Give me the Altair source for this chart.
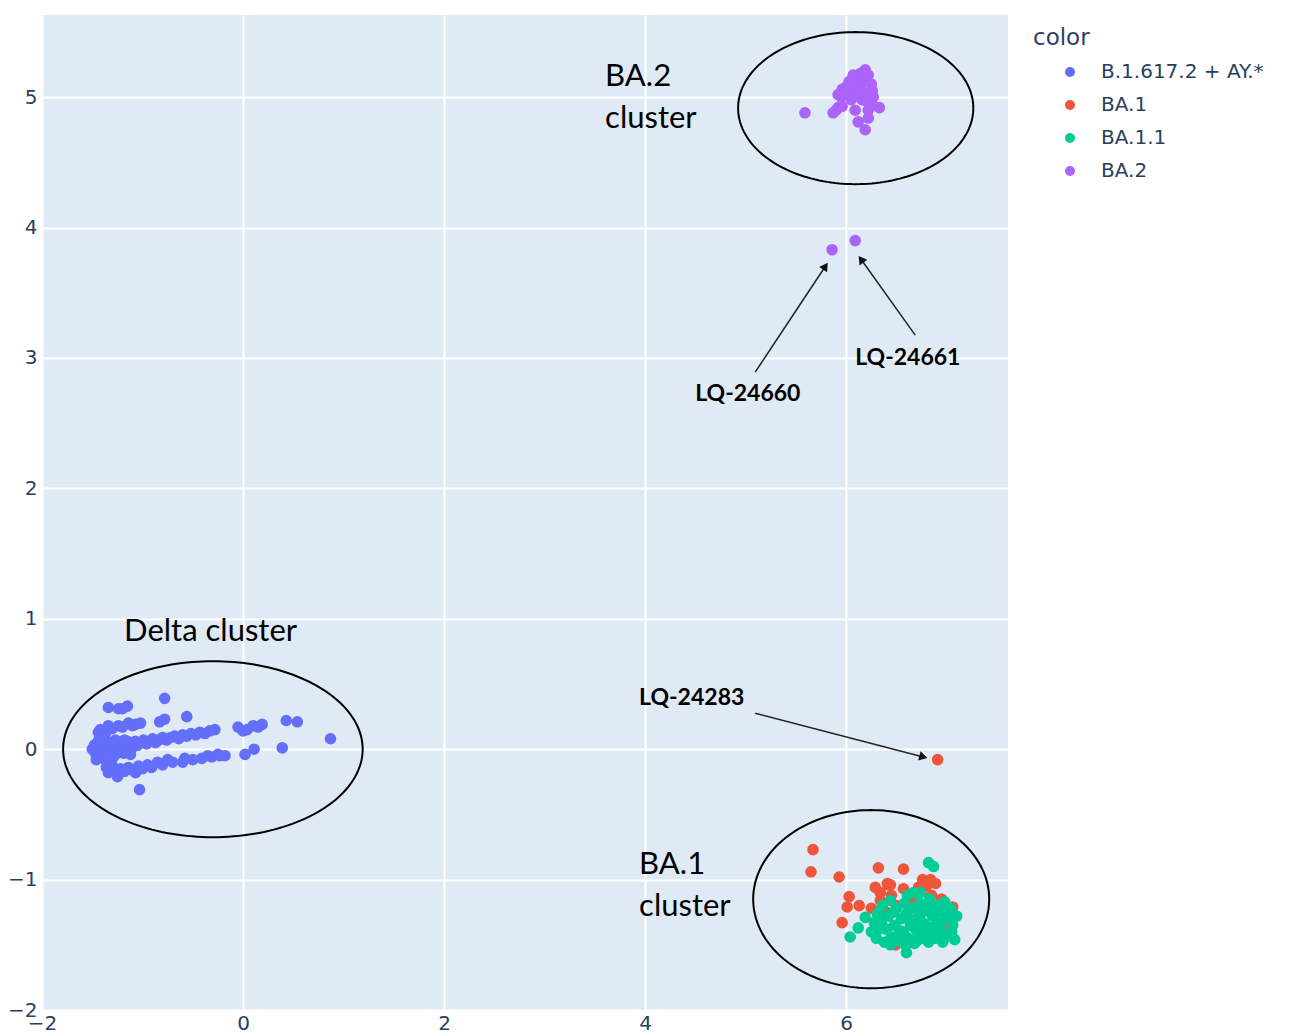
import math
import numpy as np
import pandas as pd
import altair as alt

# ---------------- data ----------------
categories = ["B.1.617.2 + AY.*", "BA.1", "BA.1.1", "BA.2"]
colors = ["#636efa", "#EF553B", "#00cc96", "#ab63fa"]

delta_x = [-1.34, -1.24, -1.15, -1.20, -0.78, -0.83, -0.78, -0.56,
           -1.44, -1.42, -1.37, -1.34, -1.30, -1.24, -1.20, -1.14, -1.10, -1.07, -1.02, -1.40,
           -1.50, -1.48, -1.47, -1.45, -1.44, -1.42, -1.40, -1.39, -1.37, -1.35, -1.34, -1.33,
           -1.31, -1.29, -1.28, -1.26, -1.24, -1.22, -1.21, -1.19, -1.17, -1.15, -1.13, -1.11,
           -1.09, -1.07, -1.05, -1.02, -0.99, -0.96, -0.93, -0.90, -0.87, -0.84, -0.80, -0.76,
           -0.72, -0.68, -0.64, -0.60, -0.56, -0.52, -0.47, -0.43, -0.38, -0.33, -0.28,
           -1.46, -1.36, -1.30, -1.27, -1.43, -1.18, -1.12,
           -1.36, -1.34, -1.30, -1.27, -1.25, -1.22, -1.18, -1.14, -1.10, -1.07, -1.04, -1.00,
           -0.95, -0.91, -0.85, -0.80, -0.75, -0.70, -0.60, -0.58, -0.50, -0.41, -0.35, -0.31,
           -0.25, -0.23, -0.18, -1.03,
           -0.05, 0.00, 0.04, 0.10, 0.15, 0.19, 0.43, 0.54, 0.87, 0.02, 0.11, 0.39]
delta_y = [0.32, 0.31, 0.33, 0.31, 0.39, 0.21, 0.23, 0.25,
           0.13, 0.15, 0.12, 0.18, 0.16, 0.18, 0.17, 0.20, 0.18, 0.19, 0.20, 0.10,
           0.00, 0.03, -0.03, 0.05, -0.05, 0.01, 0.04, -0.02, -0.06, 0.02, 0.05, -0.03,
           0.00, 0.04, -0.05, 0.02, -0.02, 0.05, 0.01, -0.03, 0.03, 0.06, 0.00, 0.04,
           0.02, 0.06, 0.03, 0.05, 0.07, 0.04, 0.06, 0.08, 0.05, 0.07, 0.09, 0.07,
           0.09, 0.10, 0.08, 0.11, 0.10, 0.12, 0.11, 0.13, 0.12, 0.14, 0.15,
           -0.08, -0.09, -0.07, 0.07, 0.08, 0.07, -0.04,
           -0.14, -0.18, -0.13, -0.16, -0.21, -0.15, -0.17, -0.14, -0.16, -0.18, -0.13, -0.15,
           -0.12, -0.14, -0.10, -0.12, -0.08, -0.10, -0.10, -0.07, -0.08, -0.07, -0.05, -0.06,
           -0.04, -0.05, -0.05, -0.31,
           0.17, 0.14, 0.15, 0.18, 0.17, 0.19, 0.22, 0.21, 0.08, -0.04, 0.00, 0.01]

ba1_x = [5.67, 5.65, 5.93, 6.03, 6.01, 6.13, 5.96, 6.32, 6.57, 6.29, 6.42, 6.34, 6.57,
         6.25, 6.34, 6.76, 6.84, 6.89, 6.80, 6.72, 7.06, 7.05, 6.49, 6.61, 6.45, 6.50,
         6.40, 6.66, 6.95, 7.00, 6.85, 6.41, 6.44, 6.91]
ba1_y = [-0.77, -0.94, -0.98, -1.13, -1.21, -1.20, -1.33, -0.91, -0.92, -1.06, -1.04, -1.10, -1.07,
         -1.22, -1.16, -1.00, -1.00, -1.03, -1.05, -1.06, -1.21, -1.31, -1.50, -1.49, -1.12, -1.20,
         -1.25, -1.14, -1.15, -1.38, -1.12, -1.03, -1.04, -0.08]

ba11_x = [6.82, 6.87, 6.04, 6.12, 6.19, 6.31, 6.44, 6.61, 6.67, 6.74, 6.60,
          6.25, 6.30, 6.35, 6.38, 6.40, 6.42, 6.45, 6.48, 6.50, 6.52, 6.55, 6.57, 6.58, 6.60,
          6.62, 6.64, 6.66, 6.68, 6.70, 6.71, 6.73, 6.75, 6.76, 6.78, 6.80, 6.82, 6.83, 6.85,
          6.86, 6.88, 6.90, 6.91, 6.93, 6.95, 6.96, 6.98, 7.00, 7.02, 7.04, 7.06, 7.08, 7.10,
          6.36, 6.47, 6.53, 6.63, 6.69, 6.79, 6.87, 6.94, 6.99, 7.05, 6.72, 6.59, 6.44, 6.33,
          6.28, 6.74, 6.84, 6.92, 7.02]
ba11_y = [-0.87, -0.90, -1.44, -1.37, -1.29, -1.26, -1.16, -1.12, -1.10, -1.10, -1.56,
          -1.40, -1.45, -1.33, -1.48, -1.38, -1.28, -1.44, -1.35, -1.22, -1.47, -1.30, -1.40, -1.18, -1.26,
          -1.45, -1.35, -1.22, -1.49, -1.30, -1.40, -1.18, -1.26, -1.44, -1.34, -1.22, -1.48, -1.15, -1.38,
          -1.28, -1.45, -1.20, -1.33, -1.40, -1.25, -1.48, -1.17, -1.30, -1.42, -1.22, -1.35, -1.46, -1.28,
          -1.20, -1.25, -1.39, -1.31, -1.38, -1.41, -1.36, -1.36, -1.44, -1.40, -1.46, -1.50, -1.50, -1.38,
          -1.33, -1.24, -1.24, -1.22, -1.26]

ba2_x = [5.59, 5.87, 5.90, 5.92, 5.96, 6.09, 6.12, 6.19, 6.22, 6.22, 6.33, 6.16,
         6.19, 6.18, 6.07, 6.12, 6.03, 6.00, 5.96, 5.92, 5.95, 6.00, 6.05, 6.10, 6.15, 6.20,
         6.25, 6.26, 6.27, 6.21, 6.15, 6.10, 6.05, 6.20, 6.25, 6.14, 6.22, 6.08,
         5.86, 6.09]
ba2_y = [4.88, 4.88, 4.90, 4.92, 4.93, 4.90, 4.81, 4.75, 4.84, 4.90, 4.92, 4.98,
         5.21, 5.16, 5.17, 5.13, 5.12, 5.08, 5.06, 5.02, 5.00, 5.04, 5.07, 5.09, 5.10, 5.12,
         5.10, 5.05, 5.00, 5.03, 5.05, 5.02, 4.98, 4.97, 4.95, 5.18, 5.17, 5.14,
         3.83, 3.90]

x_ticks = [-2, 0, 2, 4, 6]
y_ticks = [-2, -1, 0, 1, 2, 3, 4, 5]
x_domain = [-2, 7.61]
y_domain = [-2, 5.63]

# ellipses: center x, center y, radius x, radius y
ell_cx = [-0.30, 6.095, 6.249]
ell_cy = [0.00, 4.916, -1.150]
ell_rx = [1.49, 1.17, 1.174]
ell_ry = [0.675, 0.583, 0.683]

# annotation texts
ann_text = ["Delta cluster", "BA.2", "cluster", "BA.1", "cluster"]
ann_x = [-1.184, 3.602, 3.602, 3.940, 3.940]
ann_y = [0.897, 5.153, 4.831, -0.890, -1.212]

lbl_text = ["LQ-24660", "LQ-24661", "LQ-24283"]
lbl_x = [4.498, 6.090, 3.940]
lbl_y = [2.722, 2.999, 0.391]

# arrows: start -> end (tip)
arr_x0 = [5.095, 6.687, 5.095]
arr_y0 = [2.891, 3.175, 0.276]
arr_x1 = [5.821, 6.119, 6.816]
arr_y1 = [3.735, 3.788, -0.069]

# ---------------- layout ----------------
W, H = 966, 995
sx = W / (x_domain[1] - x_domain[0])
sy = H / (y_domain[1] - y_domain[0])
FG = "#2a3f5f"

rows = []
for cat, xs_, ys_ in [(categories[0], delta_x, delta_y), (categories[1], ba1_x, ba1_y),
                      (categories[2], ba11_x, ba11_y), (categories[3], ba2_x, ba2_y)]:
    for a, b in zip(xs_, ys_):
        rows.append({"x": a, "y": b, "color": cat})
pts = pd.DataFrame(rows)

erows = []
t = np.linspace(0, 2 * np.pi, 181)
for i in range(len(ell_cx)):
    for k, tt in enumerate(t):
        erows.append({"id": i, "k": k,
                      "x": ell_cx[i] + ell_rx[i] * np.cos(tt),
                      "y": ell_cy[i] + ell_ry[i] * np.sin(tt)})
ell = pd.DataFrame(erows)

head_back = 5.0  # px
lrows, hrows = [], []
for i in range(len(arr_x0)):
    dxp = (arr_x1[i] - arr_x0[i]) * sx
    dyp = -(arr_y1[i] - arr_y0[i]) * sy
    L = math.hypot(dxp, dyp)
    ux, uy = dxp / L, dyp / L
    hx = arr_x1[i] - ux * head_back / sx
    hy = arr_y1[i] + uy * head_back / sy
    ang = math.degrees(math.atan2(dxp, -dyp)) % 360
    lrows.append({"id": i, "k": 0, "x": arr_x0[i], "y": arr_y0[i]})
    lrows.append({"id": i, "k": 1, "x": hx, "y": hy})
    hrows.append({"x": hx, "y": hy, "angle": ang})
arrl = pd.DataFrame(lrows)
arrh = pd.DataFrame(hrows)

xs = alt.Scale(domain=x_domain, nice=False, zero=False)
ys = alt.Scale(domain=y_domain, nice=False, zero=False)

xax = alt.Axis(values=x_ticks, title=None, grid=True, gridColor="white", gridWidth=2,
               domain=False, ticks=False, labelFont="DejaVu Sans", labelFontSize=20,
               labelColor=FG, labelPadding=3, format="d", labelFlush=False)
yax = alt.Axis(values=y_ticks, title=None, grid=True, gridColor="white", gridWidth=2,
               domain=False, ticks=False, labelFont="DejaVu Sans", labelFontSize=20,
               labelColor=FG, labelPadding=5, format="d", labelFlush=False)

points = alt.Chart(pts).mark_circle(size=135, opacity=1).encode(
    x=alt.X("x:Q", scale=xs, axis=xax),
    y=alt.Y("y:Q", scale=ys, axis=yax),
    color=alt.Color("color:N",
                    scale=alt.Scale(domain=categories, range=colors),
                    sort=categories,
                    legend=alt.Legend(title=None, orient="none", legendX=1018, legendY=47,
                                      symbolType="circle", symbolSize=100,
                                      labelFont="DejaVu Sans", labelFontSize=20,
                                      labelColor=FG, labelOffset=21, rowPadding=13,
                                      labelLimit=400, padding=0)),
)

ellipses = alt.Chart(ell).mark_line(color="black", strokeWidth=2).encode(
    x=alt.X("x:Q", scale=xs), y=alt.Y("y:Q", scale=ys),
    detail="id:N", order="k:Q")

arrow_lines = alt.Chart(arrl).mark_line(color="#222222", strokeWidth=1.5).encode(
    x=alt.X("x:Q", scale=xs), y=alt.Y("y:Q", scale=ys),
    detail="id:N", order="k:Q")

arrow_heads = alt.Chart(arrh).mark_point(shape="triangle-up", filled=True, size=90,
                                         color="#111111", opacity=1).encode(
    x=alt.X("x:Q", scale=xs), y=alt.Y("y:Q", scale=ys),
    angle=alt.Angle("angle:Q", scale=None))

ann_df = pd.DataFrame({"x": ann_x, "y": ann_y, "t": ann_text})
ann = alt.Chart(ann_df).mark_text(align="left", baseline="middle", font="Lato",
                                  fontSize=31, color="black").encode(
    x=alt.X("x:Q", scale=xs), y=alt.Y("y:Q", scale=ys), text="t:N")

lbl_df = pd.DataFrame({"x": lbl_x, "y": lbl_y, "t": lbl_text})
lbl = alt.Chart(lbl_df).mark_text(align="left", baseline="middle", font="Lato",
                                  fontWeight="bold", fontSize=23, color="black").encode(
    x=alt.X("x:Q", scale=xs), y=alt.Y("y:Q", scale=ys), text="t:N")

legend_title = alt.Chart(pd.DataFrame({"t": ["color"]})).mark_text(
    align="left", baseline="middle", font="DejaVu Sans", fontSize=23, color=FG).encode(
    x=alt.value(991), y=alt.value(23), text="t:N")

chart = alt.layer(points, ellipses, arrow_lines, arrow_heads, ann, lbl, legend_title).properties(
    width=W, height=H,
    autosize=alt.AutoSizeParams(type="none"),
    padding={"left": 34, "top": 7, "right": 270, "bottom": 26},
    background="white",
).configure_view(fill="#DFEAF5", stroke=None)

chart.save("out.html", embed_options={"renderer": "svg", "actions": False})
